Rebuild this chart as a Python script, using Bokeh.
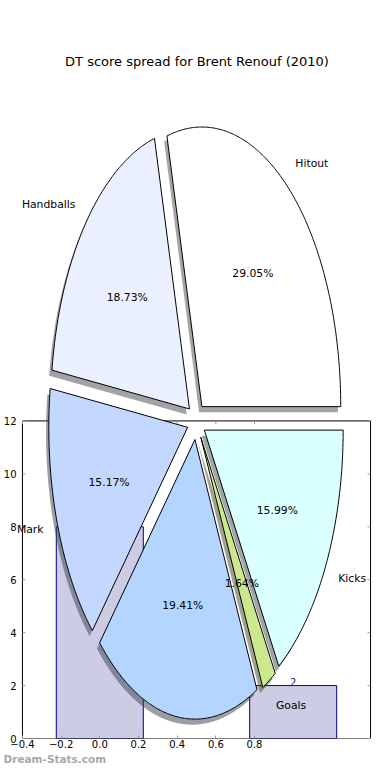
import numpy as np
from bokeh.plotting import figure
from bokeh.models import Range1d, FixedTicker, Label, ColumnDataSource, Title
from bokeh.embed import file_html
from bokeh.resources import INLINE
from bokeh.core.properties import value

# ---------------- data ----------------
categories = ["Hitout", "Handballs", "Mark", "Tackle", "Goals", "Kicks"]
percentages = [29.05, 18.73, 15.17, 19.41, 1.64, 15.99]
wedge_colors = ["#ffffff", "#eaf0ff", "#c4d8ff", "#b3d5ff", "#cce88c", "#d9ffff"]

bar_positions = [0, 1]
bar_values = [8, 2]

x_ticks = [-0.4, -0.2, 0.0, 0.2, 0.4, 0.6, 0.8]
x_tick_labels = ["\u22120.4", "\u22120.2", "0.0", "0.2", "0.4", "0.6", "0.8"]
y_ticks = [0, 2, 4, 6, 8, 10, 12]
y_tick_labels = ["0", "2", "4", "6", "8", "10", "12"]
x_limits = (-0.4, 1.4)
y_limits = (0, 12)

title_text = "DT score spread for Brent Renouf (2010)"
watermark_text = "Dream-Stats.com"

# ---------------- layout / style ----------------
FONT = "DejaVu Sans"
W, H = 374, 764
B_LEFT, B_BOTTOM = 13, 25
FW, FH = W - B_LEFT, H - B_BOTTOM
SPINE_LEFT = 6                     # px from frame left to the bar axes' left spine
BAR_PX_X = 351 / (x_limits[1] - x_limits[0])
BAR_PX_Y = (FH - 421) / (y_limits[1] - y_limits[0])
PIE_CX, PIE_CY = 194.3 - B_LEFT, 421.3   # pie centre, px from frame top-left
PIE_RX, PIE_RY = 140.0, 280.0      # px per pie unit
EXPLODE = 0.066
SHADOW = 0.02
BAR_WIDTH = 0.45
TICK_COLOR = "#999999"

x0 = x_limits[0] - SPINE_LEFT / BAR_PX_X
p = figure(
    width=W, height=H,
    x_range=Range1d(x0, x0 + FW / BAR_PX_X),
    y_range=Range1d(y_limits[0], y_limits[0] + FH / BAR_PX_Y),
    output_backend="svg", toolbar_location=None,
    min_border_left=B_LEFT, min_border_right=0, min_border_top=0,
    min_border_bottom=B_BOTTOM,
)
p.extra_x_ranges = {"pie": Range1d(-PIE_CX / PIE_RX, (FW - PIE_CX) / PIE_RX)}
p.extra_y_ranges = {"pie": Range1d(-(FH - PIE_CY) / PIE_RY, PIE_CY / PIE_RY)}
p.outline_line_color = None
p.grid.visible = False
p.background_fill_color = "white"
p.border_fill_color = "white"

for ax, ticks, labels in ((p.xaxis[0], x_ticks, x_tick_labels), (p.yaxis[0], y_ticks, y_tick_labels)):
    ax.ticker = FixedTicker(ticks=ticks)
    ax.major_label_overrides = {t: l for t, l in zip(ticks, labels)}
    ax.axis_line_color = None
    ax.major_tick_out = 0
    ax.minor_tick_line_color = None
    ax.major_label_text_font = FONT
    ax.major_label_text_font_size = "10px"
    ax.major_label_text_color = "black"
p.xaxis[0].major_tick_in = 3
p.xaxis[0].major_tick_line_color = TICK_COLOR
p.xaxis[0].major_label_standoff = 1
p.yaxis[0].major_tick_in = 0
p.yaxis[0].major_tick_line_color = None
p.yaxis[0].major_label_standoff = 0

p.add_layout(Title(text=watermark_text, align="left", offset=-B_LEFT, standoff=0,
                   text_font=FONT, text_font_size="10.5px", text_font_style="bold",
                   text_color="#a8a8a8"), "below")

# ---------------- bar chart (under the pie) ----------------
p.vbar(x=bar_positions, top=bar_values, width=BAR_WIDTH,
       fill_color="#cccce4", line_color="#00008b", line_width=1)
p.text(x=bar_positions, y=bar_values, text=[str(v) for v in bar_values],
       text_align="center", text_baseline="bottom", text_color="#1a1a99",
       text_font=value(FONT), text_font_size="10px")
# spines
p.quad(left=[x_limits[0]], right=[x_limits[1]], bottom=[y_limits[0]], top=[y_limits[1]],
       fill_color=None, line_color="black", line_width=1)
# inward ticks on left, top and right spines
p.ray(x=[x_limits[0]] * len(y_ticks), y=y_ticks, length=3, length_units="screen",
      angle=0, line_color=TICK_COLOR, line_width=1)
p.ray(x=x_ticks, y=[y_limits[1]] * len(x_ticks), length=3, length_units="screen",
      angle=-np.pi / 2, line_color=TICK_COLOR, line_width=1)
p.ray(x=[x_limits[1]] * len(y_ticks), y=y_ticks, length=3, length_units="screen",
      angle=np.pi, line_color=TICK_COLOR, line_width=1)

# ---------------- pie ----------------
pct = np.array(percentages, dtype=float)
bounds = np.concatenate([[0.0], np.cumsum(pct)]) / pct.sum() * 2 * np.pi
mids = (bounds[:-1] + bounds[1:]) / 2
ox = EXPLODE * np.cos(mids)
oy = EXPLODE * np.sin(mids)

wx, wy = [], []
for i in range(len(pct)):
    n = max(3, int(np.degrees(bounds[i + 1] - bounds[i]) * 2))
    a = np.linspace(bounds[i], bounds[i + 1], n)
    wx.append(np.concatenate([[ox[i]], ox[i] + np.cos(a)]))
    wy.append(np.concatenate([[oy[i]], oy[i] + np.sin(a)]))


def darken(hexcol, f=0.3):
    h = hexcol.lstrip("#")
    r, g, b = (int(h[k:k + 2], 16) for k in (0, 2, 4))
    return "#%02x%02x%02x" % (int(r * f), int(g * f), int(b * f))


p.patches(xs=[x - SHADOW for x in wx], ys=[y - SHADOW for y in wy],
          fill_color=[darken(c) for c in wedge_colors], fill_alpha=0.5,
          line_color=None, x_range_name="pie", y_range_name="pie")
p.patches(xs=wx, ys=wy, fill_color=wedge_colors, line_color="black", line_width=1,
          x_range_name="pie", y_range_name="pie")

pct_src = ColumnDataSource(dict(
    x=ox + 0.6 * np.cos(mids), y=oy + 0.6 * np.sin(mids),
    t=["%1.2f%%" % v for v in percentages]))
p.text(x="x", y="y", text="t", source=pct_src, text_align="center",
       text_baseline="middle", text_font=value(FONT), text_font_size="10.8px",
       text_color="black", x_range_name="pie", y_range_name="pie")

for i, cat in enumerate(categories):
    lx = ox[i] + 1.1 * np.cos(mids[i])
    ly = oy[i] + 1.1 * np.sin(mids[i])
    p.add_layout(Label(x=lx, y=ly, text=cat,
                       text_align="left" if lx > 0 else "right",
                       text_baseline="middle", text_font=FONT, text_font_size="10.8px",
                       text_color="black", x_range_name="pie", y_range_name="pie"))

# ---------------- title ----------------
p.add_layout(Label(x=(195 - B_LEFT - PIE_CX) / PIE_RX, y=(PIE_CY - 61) / PIE_RY,
                   text=title_text, text_align="center", text_baseline="middle",
                   text_font=FONT, text_font_size="13px", text_color="black",
                   x_range_name="pie", y_range_name="pie"))

open("out.html", "w").write(file_html(p, INLINE))
